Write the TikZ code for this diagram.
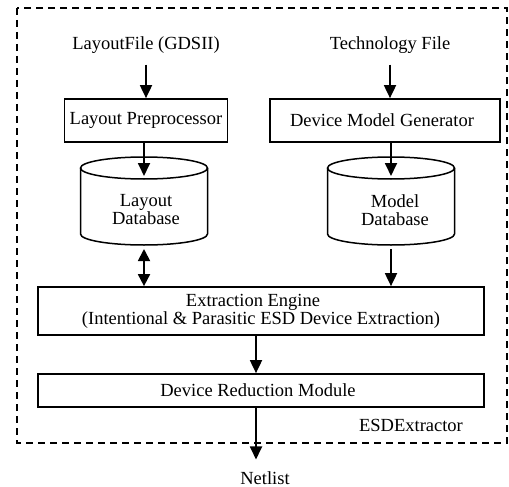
\documentclass[tikz,border=0pt]{standalone}
\usepackage{fontspec}
\setmainfont{Liberation Serif}
\usetikzlibrary{arrows.meta}
\newcommand\drawdb[2]{%
  \draw[cyl] (#1,168) ellipse [x radius=63.5pt, y radius=11pt];
  \draw[cyl] (#1-63.5,168) -- (#1-63.5,234) arc[start angle=180, end angle=360, x radius=63.5pt, y radius=11pt] -- (#1+63.5,168);
  \coordinate (#2in) at (#1,176);
  \coordinate (#2out) at (#1,249);
}
\begin{document}
\begin{tikzpicture}[x=1pt,y=-1pt,
  font=\fontsize{18.5}{18}\selectfont,
  box/.style={draw, line width=1.7pt, inner sep=0pt, align=center},
  lbl/.style={inner sep=0pt},
  cyl/.style={line width=1.5pt},
  arr/.style={line width=1.8pt, -{Triangle[length=13pt,width=12pt]}},
  darr/.style={line width=1.8pt, {Triangle[length=12pt,width=12pt]}-{Triangle[length=12pt,width=12pt]}},
  frame/.style={line width=1.3pt, dash pattern=on 7pt off 5pt}]
\useasboundingbox (0,0) rectangle (509,487);
\draw[frame] (17,8) rectangle (507,443);
\node[lbl] (in1) at (146,45) {LayoutFile (GDSII)};
\node[lbl] (in2) at (390,45) {Technology File};
\node[box, minimum width=163pt, minimum height=43pt] (lp) at (146,120.5) {Layout Preprocessor};
\node[box, minimum width=230pt, minimum height=43pt] (dmg) at (385,120.5) {\hspace*{-6pt}Device Model Generator};
\drawdb{144}{ldb}
\drawdb{391}{mdb}
\node[lbl, align=center] (ldbt) at (146,210) {Layout\\Database};
\node[lbl, align=center] (mdbt) at (395,210) {Model\\Database};
\node[box, minimum width=446pt, minimum height=48pt] (ee) at (261,311) {\hspace*{-16pt}Extraction Engine\\(Intentional \& Parasitic ESD Device Extraction)};
\node[box, minimum width=446pt, minimum height=33pt] (drm) at (261,390.5) {\hspace*{-6pt}Device Reduction Module};
\node[lbl] (esd) at (411,425) {ESDExtractor};
\node[lbl, outer ysep=12pt] (net) at (265,478) {Netlist};
\coordinate (ax) at (256,350);
\draw[arr] ([yshift=-11pt]in1.south) -- (in1.south |- lp.north);
\draw[arr] ([yshift=-11pt]in2.south) -- (in2.south |- dmg.north);
\draw[arr] (lp.south -| ldbin) -- (ldbin);
\draw[arr] (dmg.south -| mdbin) -- (mdbin);
\draw[darr] (ldbout) -- (ldbout |- ee.north);
\draw[arr] (mdbout) -- (mdbout |- ee.north);
\draw[arr] (ee.south -| ax) -- (drm.north -| ax);
\draw[arr] (drm.south -| ax) -- (ax |- net.north);
\end{tikzpicture}
\end{document}
